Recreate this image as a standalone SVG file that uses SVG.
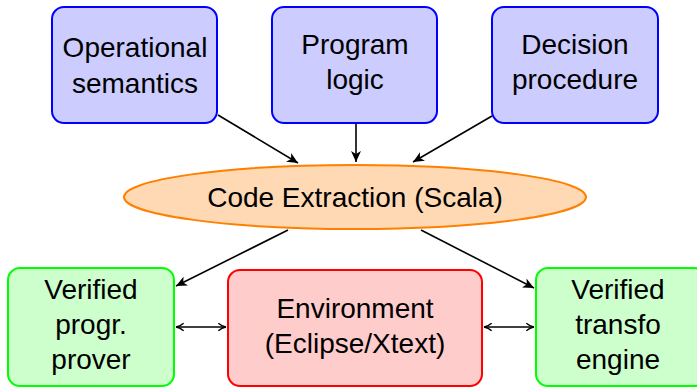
<svg xmlns="http://www.w3.org/2000/svg" width="697" height="387" viewBox="0 0 697 387">
  <style>
    text { font-family: "Liberation Sans", Arial, sans-serif; font-size: 28px; fill: #000; text-anchor: middle; }
    .input rect { fill: #ccccff; stroke: #0000ff; stroke-width: 2; }
    .tool rect { fill: #ccffcc; stroke: #00ff00; stroke-width: 2; }
    .env rect { fill: #ffcccc; stroke: #ff0000; stroke-width: 2; }
    .extract ellipse { fill: #ffd9b3; stroke: #ff8000; stroke-width: 2; }
    .edge { fill: none; stroke: #000; stroke-width: 1.6; }
  </style>
  <defs>
    <!-- open curved head used on the two-way links -->
    <marker id="head" viewBox="0 0 10 10" refX="9.5" refY="5" markerWidth="9" markerHeight="10" markerUnits="userSpaceOnUse" orient="auto-start-reverse">
      <path d="M1,0.8 Q5,4.2 9.5,5 Q5,5.8 1,9.2" fill="none" stroke="#000" stroke-width="1.6"/>
    </marker>
    <!-- filled head on the one-way links -->
    <marker id="tip" viewBox="0 0 12 10" refX="11" refY="5" markerWidth="12" markerHeight="10" markerUnits="userSpaceOnUse" orient="auto-start-reverse">
      <path d="M0,0 L11,5 L0,10 L3,5 Z" fill="#000"/>
    </marker>
  </defs>

  <g id="operational" class="input">
    <rect x="52" y="7" width="165" height="116" rx="12"/>
    <text x="135" y="57">Operational</text>
    <text x="135" y="93">semantics</text>
  </g>
  <g id="program" class="input">
    <rect x="272" y="7" width="165" height="116" rx="12"/>
    <text x="355" y="54">Program</text>
    <text x="355" y="89">logic</text>
  </g>
  <g id="decision" class="input">
    <rect x="492" y="7" width="166" height="116" rx="12"/>
    <text x="575" y="54">Decision</text>
    <text x="575" y="89">procedure</text>
  </g>

  <g id="extraction" class="extract">
    <ellipse cx="355" cy="197" rx="231" ry="32"/>
    <text x="355" y="207">Code Extraction (Scala)</text>
  </g>

  <g id="prover" class="tool">
    <rect x="8" y="268" width="166" height="118" rx="12"/>
    <text x="91" y="299">Verified</text>
    <text x="91" y="334">progr.</text>
    <text x="91" y="369">prover</text>
  </g>
  <g id="environment" class="env">
    <rect x="228" y="270" width="254" height="116" rx="12"/>
    <text x="355" y="318">Environment</text>
    <text x="355" y="353">(Eclipse/Xtext)</text>
  </g>
  <g id="transfo" class="tool">
    <rect x="536" y="268" width="170" height="118" rx="12"/>
    <text x="618" y="299">Verified</text>
    <text x="618" y="334">transfo</text>
    <text x="618" y="369">engine</text>
  </g>

  <g id="connectors">
    <line class="edge" x1="218" y1="115" x2="298" y2="163" marker-end="url(#tip)"/>
    <line class="edge" x1="356" y1="124" x2="356" y2="162" marker-end="url(#tip)"/>
    <line class="edge" x1="492" y1="116" x2="413" y2="162" marker-end="url(#tip)"/>
    <line class="edge" x1="288" y1="230" x2="176" y2="286" marker-end="url(#tip)"/>
    <line class="edge" x1="421" y1="230" x2="534" y2="288" marker-end="url(#tip)"/>
    <line class="edge" x1="176" y1="327" x2="226" y2="327" marker-start="url(#head)" marker-end="url(#head)"/>
    <line class="edge" x1="484" y1="327" x2="534" y2="327" marker-start="url(#head)" marker-end="url(#head)"/>
  </g>
</svg>
